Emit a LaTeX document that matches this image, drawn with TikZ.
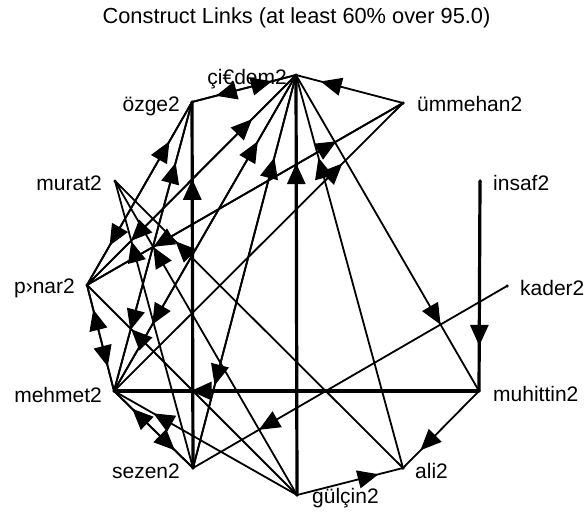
\documentclass[tikz,border=0pt]{standalone}
\usepackage{fontspec}
\setmainfont{Liberation Sans}
\usetikzlibrary{arrows.meta,decorations.markings}

\begin{document}
\begin{tikzpicture}[x=1pt,y=-1pt,
  dot/.style={circle,fill=black,inner sep=0pt,minimum size=3.5pt},
  lbl/.style={inner sep=0pt,font=\fontsize{21}{25}\selectfont},
  tielink/.style={line width=1.8pt,postaction={decorate},
    decoration={markings,mark=at position #1 with {\arrow{Triangle[length=21pt,width=18pt]}}}},
  tielink/.default=0.79,
  heavytie/.style={line width=3.2pt},
]
\useasboundingbox (0,0) rectangle (585,511);

% title
\node[anchor=base,inner sep=0pt,font=\fontsize{21.8}{26}\selectfont] (title) at (296.5,23.5)
  {Construct Links (at least 60\% over 95.0)};

% actors
\node[dot] (C) at (296,75) {};
\node[dot] (O) at (192,102) {};
\node[dot] (U) at (403,103) {};
\node[dot] (M) at (115,181) {};
\node[dot] (I) at (480,181) {};
\node[dot] (P) at (87,285) {};
\node[dot] (K) at (507,286) {};
\node[dot] (H) at (114,391) {};
\node[dot] (T) at (479,391) {};
\node[dot] (S) at (193,468) {};
\node[dot] (A) at (403,468) {};
\node[dot] (G) at (297,495) {};

% names
\node[lbl,anchor=base east] (lC) at (287,84) {çi€dem2};
\node[lbl,anchor=base east] (lO) at (180,111) {özge2};
\node[lbl,anchor=base west] (lU) at (417,111) {ümmehan2};
\node[lbl,anchor=base east] (lM) at (102,190) {murat2};
\node[lbl,anchor=base west] (lI) at (493,190) {insaf2};
\node[lbl,anchor=base east] (lP) at (75,293) {p›nar2};
\node[lbl,anchor=base west] (lK) at (520,295) {kader2};
\node[lbl,anchor=base east] (lH) at (102,402) {mehmet2};
\node[lbl,anchor=base west] (lT) at (493,401) {muhittin2};
\node[lbl,anchor=base east] (lS) at (180,478) {sezen2};
\node[lbl,anchor=base west] (lA) at (415,478) {ali2};
\node[lbl,anchor=base west] (lG) at (312,503) {gülçin2};

% ties (arrow sits near the receiving actor)
\draw[tielink=0.77] (U.center) -- (C.center);
\draw[tielink=0.77] (O.center) -- (C.center);
\draw[tielink=0.77] (C.center) -- (O.center);
\draw[tielink] (P.center) -- (C.center);
\draw[tielink] (C.center) -- (P.center);
\draw[tielink] (H.center) -- (C.center);
\draw[tielink] (C.center) -- (H.center);
\draw[tielink] (S.center) -- (C.center);
\draw[tielink] (C.center) -- (S.center);
\draw[tielink,heavytie] (G.center) -- (C.center);
\draw[tielink] (A.center) -- (C.center);
\draw[tielink] (C.center) -- (T.center);
\draw[tielink] (P.center) -- (U.center);
\draw[tielink] (U.center) -- (P.center);
\draw[tielink] (H.center) -- (U.center);
\draw[tielink=0.785,heavytie] (I.center) -- (T.center);
\draw[tielink,heavytie] (T.center) -- (H.center);
\draw[tielink,heavytie] (S.center) -- (O.center);
\draw[tielink=0.785] (P.center) -- (O.center);
\draw[tielink=0.785] (O.center) -- (P.center);
\draw[tielink=0.79] (H.center) -- (O.center);
\draw[tielink=0.79] (O.center) -- (H.center);
\draw[tielink=0.77] (P.center) -- (H.center);
\draw[tielink=0.77] (H.center) -- (P.center);
\draw[tielink=0.77] (H.center) -- (S.center);
\draw[tielink=0.77] (S.center) -- (H.center);
\draw[tielink] (K.center) -- (S.center);
\draw[tielink=0.77] (T.center) -- (A.center);
\draw[tielink=0.77] (G.center) -- (A.center);
\draw[tielink=0.79] (S.center) -- (M.center);
\draw[tielink] (G.center) -- (M.center);
\draw[tielink] (A.center) -- (M.center);
\draw[tielink=0.79] (G.center) -- (P.center);
\draw[tielink=0.785] (G.center) -- (H.center);
\end{tikzpicture}
\end{document}
